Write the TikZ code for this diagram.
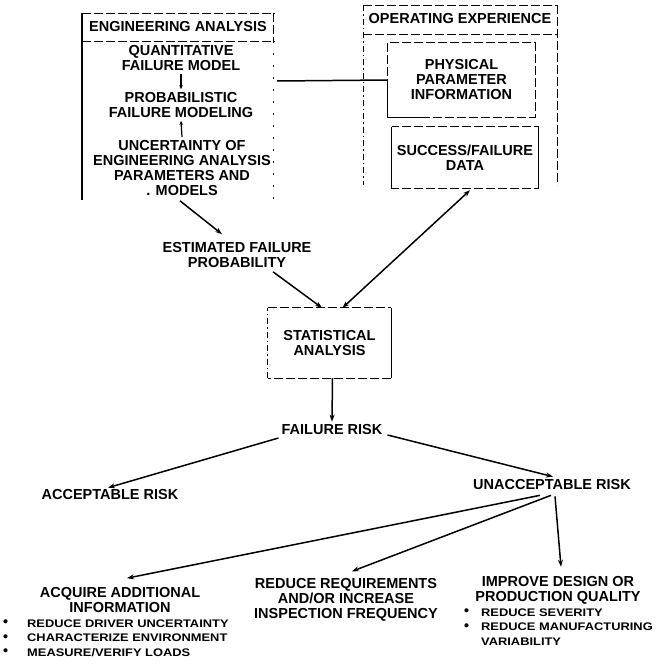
\documentclass[tikz,border=0pt]{standalone}
\usepackage{fontspec}
\usepackage{graphicx}
\setmainfont{Liberation Sans}
\usetikzlibrary{arrows.meta,calc}
\newcommand\mainf{\fontsize{14.5}{15}\selectfont\bfseries}
\newcommand\bulf{\fontsize{11}{14.5}\selectfont\bfseries}
\newcommand\wide[1]{\scalebox{1.17}[1]{#1}}
\newcommand\bul{\raisebox{0.5pt}{\scalebox{1.3}{\textbullet}}}
\begin{document}
\begin{tikzpicture}[x=1pt,y=-1pt,
  txt/.style={font=\mainf, align=center, inner sep=0pt},
  boxn/.style={txt, draw=none},
  conn/.style={line width=1.5pt, -{Stealth[length=7pt,width=5pt]}},
  small/.style={line width=1.2pt, -{Stealth[length=4pt,width=3.5pt]}},
  link/.style={line width=1.5pt},
  bord/.style={line width=1pt, dash pattern=on 9pt off 3pt},
  bsolid/.style={line width=1.3pt},
  bdot/.style={line width=1pt, dash pattern=on 6pt off 3pt on 1.5pt off 3pt},
  sparse/.style={line width=1pt, dash pattern=on 2pt off 10pt}]
\useasboundingbox (0,0) rectangle (659,664);

% ---------- Engineering analysis box ----------
\draw[bord] (82,13) -- (275,13);
\draw[bord] (82,41) -- (275,41);
\draw[bsolid] (82,13) -- (82,200);
\draw[bord] (273,13) -- (273,41);
\draw[sparse] (273,41) -- (273,200);
\coordinate (engR) at (277,81);
\node[txt] (engt) at (178,27) {ENGINEERING ANALYSIS};
\node[txt] (quant) at (181,58) {QUANTITATIVE\\FAILURE MODEL};
\node[txt] (prob) at (181,105) {PROBABILISTIC\\FAILURE MODELING};
\node[txt] (unc) at (182,168) {UNCERTAINTY OF\\ENGINEERING ANALYSIS\\PARAMETERS AND\\. MODELS};

% ---------- Operating experience box ----------
\draw[bord] (363,5) -- (558,5);
\draw[bord] (363,34) -- (558,34);
\draw[bdot] (363,5) -- (363,185);
\draw[bord] (557,5) -- (557,185);
\node[txt] (opt) at (460,19) {OPERATING EXPERIENCE};

\node[boxn, minimum width=147pt, minimum height=74pt] (phys) at (461.5,80) {PHYSICAL\\PARAMETER\\INFORMATION};
\draw[bord] (phys.north west) rectangle (phys.south east);
\draw[bsolid] (phys.west) -- (phys.south west) -- ($(phys.south west)+(40,0)$);

\node[boxn, minimum width=146pt, minimum height=61pt] (succ) at (465,157.5) {SUCCESS/FAILURE\\DATA};
\draw[bord] (succ.north west) rectangle (succ.south east);
\draw[bsolid] (succ.north west) -- (succ.south west);
\draw[bsolid] (succ.north east) -- (succ.south east);

% ---------- middle ----------
\node[txt] (est) at (237,255) {ESTIMATED FAILURE\\PROBABILITY};
\node[boxn, minimum width=123pt, minimum height=70pt] (stat) at (329.5,343) {STATISTICAL\\ANALYSIS};
\draw[bord] (stat.north west) -- (stat.north east);
\draw[bsolid] (stat.north east) -- (stat.south east);
\draw[bord] (stat.south east) -- (stat.south west);
\draw[bdot] (stat.south west) -- (stat.north west);

\node[txt] (fr) at (332,430) {FAILURE RISK};
\node[txt] (acc) at (110,495) {ACCEPTABLE RISK};
\node[txt] (unacc) at (552,485) {UNACCEPTABLE RISK};

\node[txt] (acq) at (120,600) {ACQUIRE ADDITIONAL\\INFORMATION};
\node[txt] (red) at (346,600) {REDUCE REQUIREMENTS\\AND/OR INCREASE\\INSPECTION FREQUENCY};
\node[txt] (imp) at (558,590) {IMPROVE DESIGN OR\\PRODUCTION QUALITY};

\node[font=\bulf, align=left, inner sep=0pt, anchor=west] (bl) at (3,638)
  {\makebox[24pt][l]{\bul}\wide{REDUCE DRIVER UNCERTAINTY}\\
   \makebox[24pt][l]{\bul}\wide{CHARACTERIZE ENVIRONMENT}\\
   \makebox[24pt][l]{\bul}\wide{MEASURE/VERIFY LOADS}};
\node[font=\bulf, align=left, inner sep=0pt, anchor=west] (br) at (464,627)
  {\makebox[17pt][l]{\bul}\wide{REDUCE SEVERITY}\\
   \makebox[17pt][l]{\bul}\wide{REDUCE MANUFACTURING}\\
   \hspace*{17pt}\wide{VARIABILITY}};

% ---------- connectors ----------
\draw[small] ($(quant.south)+(0,3)$) -- ($(prob.north)+(0,-3)$);
\draw[small] ($(unc.north)+(0,-3)$) -- ($(prob.south)+(0,3)$);
\draw[link] (engR) -- (phys.west);
\draw[conn] ($(unc.south)+(-2,5)$) -- ($(est.north)+(-15,-8)$);
\draw[conn] ($(est.south)+(36,4)$) -- ($(stat.north)+(-7.5,0)$);
\draw[conn,{Stealth[length=7pt,width=5pt]}-{Stealth[length=7pt,width=5pt]}] ($(stat.north)+(13,0)$) -- ($(succ.south)+(5,2)$);
\draw[conn] ($(stat.south)+(3,0)$) -- ($(fr.north)+(0,-3)$);
\draw[conn] ($(fr.west)+(-3,8)$) -- ($(acc.north)+(-2,-2)$);
\draw[conn] ($(fr.east)+(5,5)$) -- ($(unacc.north)+(1,-3)$);
\draw[conn] ($(unacc.south)+(-12,5)$) -- ($(acq.north)+(7,-9)$);
\draw[conn] ($(unacc.south)+(-1,5)$) -- ($(red.north)+(6,-7)$);
\draw[conn] ($(unacc.south)+(3,6)$) -- ($(imp.north)+(3,-9)$);
\end{tikzpicture}
\end{document}
